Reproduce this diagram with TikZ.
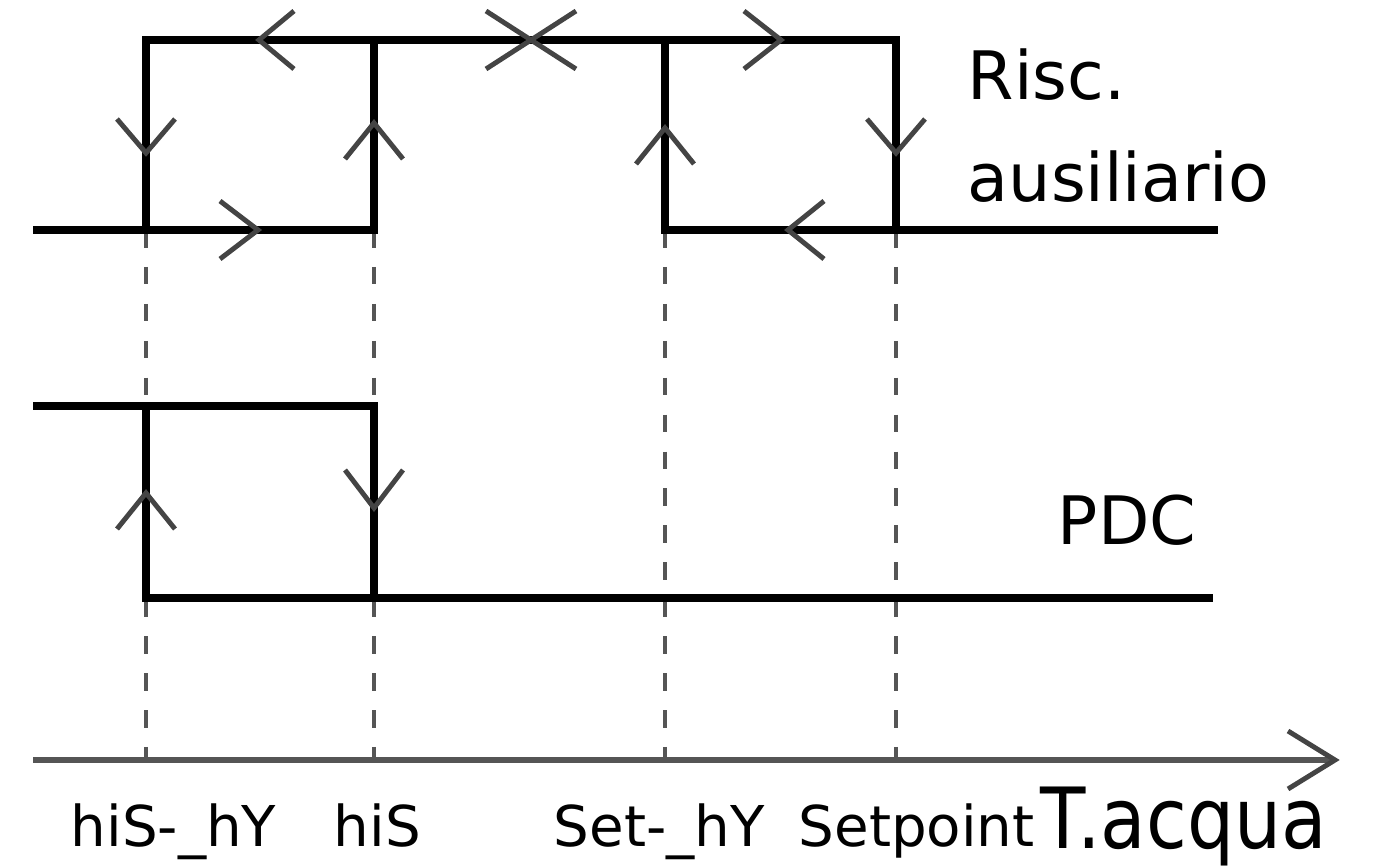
\documentclass[tikz,border=0pt]{standalone}
\usepackage{fontspec}
\setmainfont{DejaVu Sans}
\newfontfamily\smalfont[FakeStretch=0.88]{DejaVu Sans}
\usepackage{tikz}
\definecolor{pilgraa}{HTML}{444444}
\definecolor{aksegraa}{HTML}{555555}

\begin{document}
\begin{tikzpicture}[x=0.01cm,y=-0.01cm,
  linje/.style={line width=2.5pt,line join=miter},
  akselinje/.style={line width=1.6pt,aksegraa},
  pil/.style={line width=1.4pt,pilgraa,line join=miter},
  stiplet/.style={line width=1.3pt,aksegraa,dash pattern=on 5pt off 5.5pt},
  tekst/.style={inner sep=0pt,anchor=base west,font=\fontsize{19}{22}\selectfont},
  etiket/.style={inner sep=0pt,anchor=base west,font=\fontsize{16}{19}\selectfont}]
  \useasboundingbox (0,0) rectangle (1376,868);

  % Stiplede hjaelpelinjer
  \foreach \x in {146,374,665,896}
    \draw[stiplet] (\x,230) -- (\x,760);

  % Risc. ausiliario
  \coordinate (Ra) at (146,40);
  \coordinate (Rb) at (374,40);
  \coordinate (Rc) at (665,40);
  \coordinate (Rd) at (896,40);
  \coordinate (ra) at (146,230);
  \coordinate (rb) at (374,230);
  \coordinate (rc) at (665,230);
  \coordinate (rd) at (896,230);
  \draw[linje] (33,230) -- (rb) -- (Rb);
  \draw[linje] (ra) -- (Ra) -- (Rd) -- (rd) -- (1218,230);
  \draw[linje] (Rc) -- (rc) -- (rd);

  % PDC
  \coordinate (Pa) at (146,406);
  \coordinate (Pb) at (374,406);
  \coordinate (pa) at (146,598);
  \coordinate (pb) at (374,598);
  \draw[linje] (33,406) -- (Pb) -- (pb);
  \draw[linje] (Pa) -- (pa) -- (1213,598);

  % Akse
  \coordinate (O) at (33,760);
  \coordinate (E) at (1335,760);
  \draw[akselinje] (O) -- (E);

  % Pile
  \foreach \x/\y/\r/\l in {259/40/180/35, 531/40/0/45, 531/40/180/45, 781/40/0/37,
      146/153/-90/34, 374/123/90/36, 665/128/90/36, 896/153/-90/34,
      258/230/0/38, 788/230/180/36, 146/493/90/36, 374/508/-90/38, 1335/760/0/47}
    \draw[pil,shift={(\x,\y)},rotate=\r] (-\l,29) -- (0,0) -- (-\l,-29);

  % Tekster
  \node[tekst] (risc) at (967,100) {Risc.};
  \node[tekst] (ausil) at (967,202) {ausiliario};
  \node[tekst] (pdc) at (1057,545) {PDC};
  \node[etiket] (hishy) at (70,847) {hiS-\_hY};
  \node[etiket] (his) at (333,847) {hiS};
  \node[etiket] (sethy) at (553,847) {Set-\_hY};
  \node[etiket] (setp) at (798,847) {Setpoint};
  \node[etiket,font=\smalfont\fontsize{24}{28}\selectfont] (tacqua) at (1040,849) {T.acqua};
\end{tikzpicture}
\end{document}
